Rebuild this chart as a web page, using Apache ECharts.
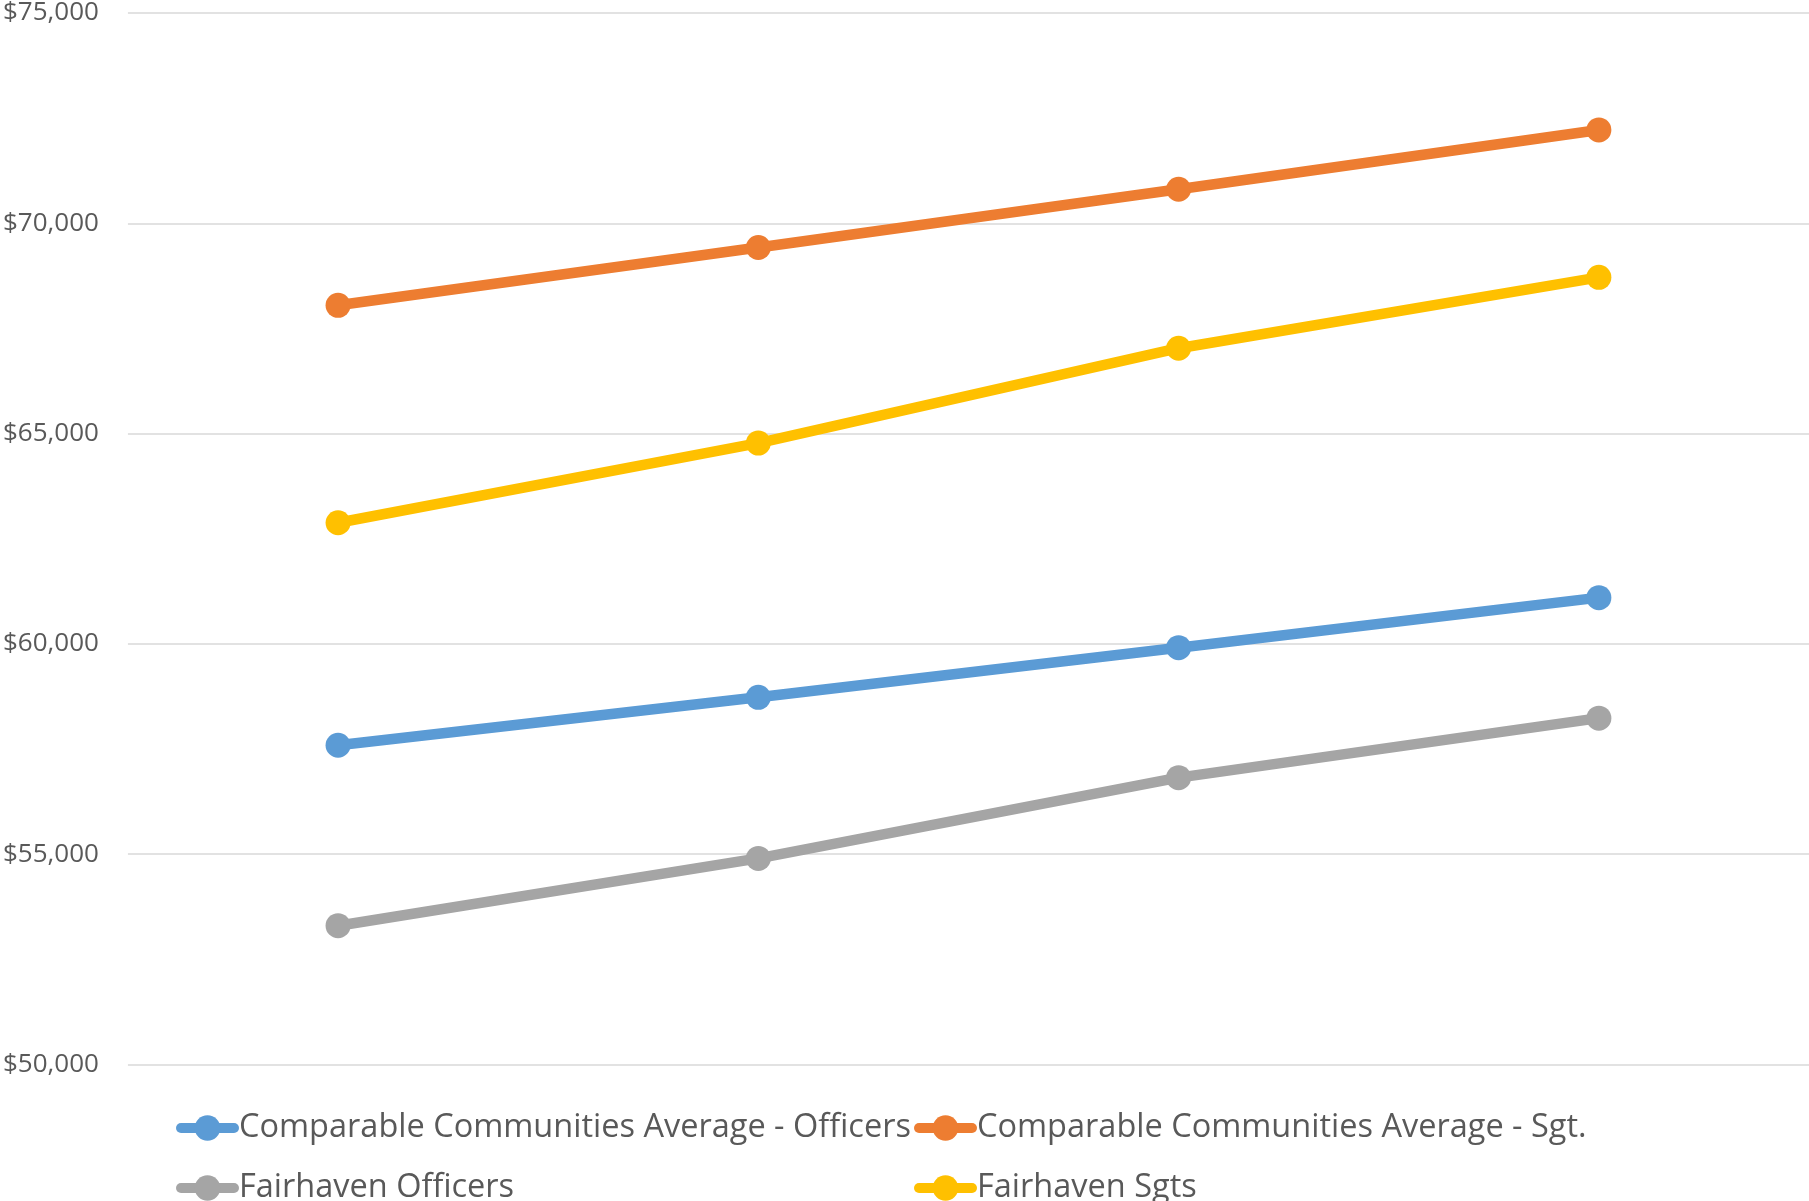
<!DOCTYPE html>
<html>
<head>
<meta charset="utf-8">
<script src="https://cdn.jsdelivr.net/npm/echarts@6/dist/echarts.min.js"></script>
<style>
html,body{margin:0;padding:0;background:#fff;}
#chart{width:1809px;height:1201px;}
</style>
</head>
<body>
<div id="chart"></div>
<script>
const categories = ["1", "2", "3", "4"];
const seriesNames = [
  "Comparable Communities Average - Officers",
  "Comparable Communities Average - Sgt.",
  "Fairhaven Officers",
  "Fairhaven Sgts"
];
const compOfficers = [57590, 58730, 59910, 61100];
const compSgt = [68050, 69425, 70810, 72220];
const fairOfficers = [53300, 54900, 56820, 58235];
const fairSgts = [62880, 64775, 67030, 68715];
const colors = ["#5B9BD5", "#ED7D31", "#A5A5A5", "#FFC000"];
const yTicks = { min: 50000, max: 75000, interval: 5000 };

const dataSets = [compOfficers, compSgt, fairOfficers, fairSgts];

const chart = echarts.init(document.getElementById('chart'), null, { renderer: 'canvas' });

const legendText = { color: '#595959', fontSize: 32.5, fontFamily: 'Open Sans', lineHeight: 34 };
const legendBase = {
  orient: 'vertical',
  top: 1111,
  height: 300,
  itemWidth: 53,
  itemHeight: 32,
  itemGap: 26,
  textStyle: legendText,
  lineStyle: { width: 10, cap: 'round' },
  padding: 0,
  selectedMode: false
};

chart.setOption({
  animation: false,
  color: colors,
  grid: { left: 119, right: 0, top: 11, bottom: 136.5, containLabel: false },
  legend: [
    Object.assign({}, legendBase, { left: 176, data: [seriesNames[0], seriesNames[2]] }),
    Object.assign({}, legendBase, { left: 914, data: [seriesNames[1], seriesNames[3]] })
  ],
  xAxis: {
    type: 'category',
    data: categories,
    boundaryGap: true,
    axisLine: { show: false },
    axisTick: { show: false },
    axisLabel: { show: false },
    splitLine: { show: false }
  },
  yAxis: {
    type: 'value',
    min: yTicks.min,
    max: yTicks.max,
    interval: yTicks.interval,
    axisLine: { show: false },
    axisTick: { show: false },
    axisLabel: {
      color: '#595959',
      fontSize: 26,
      fontFamily: 'Open Sans',
      margin: 29,
      formatter: v => '$' + v.toLocaleString('en-US')
    },
    splitLine: { lineStyle: { color: '#D9D9D9', width: 1.5 } }
  },
  series: seriesNames.map((name, i) => ({
    name: name,
    type: 'line',
    data: dataSets[i],
    symbol: 'circle',
    symbolSize: 25,
    lineStyle: { width: 10.5, color: colors[i], cap: 'round' },
    itemStyle: { color: colors[i] },
    z: 2 + i
  }))
});
</script>
</body>
</html>
